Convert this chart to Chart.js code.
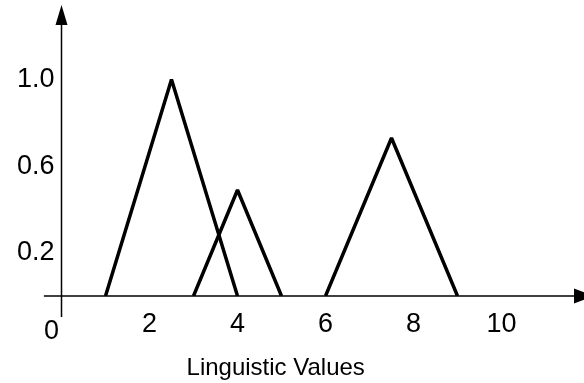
<!DOCTYPE html>
<html>
<head>
<meta charset="utf-8">
<script src="https://cdn.jsdelivr.net/npm/chart.js@4.4.0/dist/chart.umd.min.js"></script>
<style>
  html, body { margin: 0; padding: 0; background: #fff; }
  #wrap { width: 584px; height: 383px; }
</style>
</head>
<body>
<div id="wrap"><canvas id="fuzzyChart" width="584" height="383"></canvas></div>
<script>
// membership functions (x = linguistic value, y = degree)
const lowX = [1, 2.5, 4];
const lowY = [0, 1.0, 0];
const midX = [3, 4, 5];
const midY = [0, 0.49, 0];
const highX = [6, 7.5, 9];
const highY = [0, 0.73, 0];

const xTicks = [0, 2, 4, 6, 8, 10];
const yTicks = [0.2, 0.6, 1.0];
const xTitle = 'Linguistic Values';
const originLabel = '0';

const FONT = '"Liberation Sans", Arial, sans-serif';

function toPoints(xs, ys) {
    return xs.map((x, i) => ({ x: x, y: ys[i] }));
}

function triangle(xs, ys) {
    return {
        data: toPoints(xs, ys),
        showLine: true,
        borderColor: '#000',
        borderWidth: 3.5,
        borderJoinStyle: 'bevel',
        borderCapStyle: 'butt',
        pointRadius: 0,
        tension: 0
    };
}

// axes with arrows, origin label and axis title
const axesPlugin = {
    id: 'axesPlugin',
    afterDraw(chart) {
        const ctx = chart.ctx;
        const xs = chart.scales.x;
        const ys = chart.scales.y;
        const x0 = xs.getPixelForValue(0);
        const y0 = ys.getPixelForValue(0);

        ctx.save();
        ctx.strokeStyle = '#000';
        ctx.fillStyle = '#000';
        ctx.lineWidth = 1.5;

        // horizontal axis
        ctx.beginPath();
        ctx.moveTo(xs.getPixelForValue(-0.4), y0);
        ctx.lineTo(xs.right - 10, y0);
        ctx.stroke();
        ctx.beginPath();
        ctx.moveTo(xs.right - 10, y0 - 7.5);
        ctx.lineTo(xs.right + 10, y0);
        ctx.lineTo(xs.right - 10, y0 + 7.5);
        ctx.closePath();
        ctx.fill();

        // vertical axis
        ctx.beginPath();
        ctx.moveTo(x0, ys.getPixelForValue(-0.097));
        ctx.lineTo(x0, ys.top + 19);
        ctx.stroke();
        ctx.beginPath();
        ctx.moveTo(x0 - 6, ys.top + 19);
        ctx.lineTo(x0, ys.top - 1);
        ctx.lineTo(x0 + 6, ys.top + 19);
        ctx.closePath();
        ctx.fill();

        // origin label sits left of the vertical axis
        ctx.font = '27px ' + FONT;
        ctx.textAlign = 'center';
        ctx.textBaseline = 'alphabetic';
        ctx.fillText(originLabel, x0 - 10, y0 + 42.5);

        ctx.font = '24px ' + FONT;
        ctx.fillText(xTitle, 275.7, 375);
        ctx.restore();
    }
};

const ctx = document.getElementById('fuzzyChart').getContext('2d');
new Chart(ctx, {
    type: 'scatter',
    data: {
        datasets: [
            triangle(lowX, lowY),
            triangle(midX, midY),
            triangle(highX, highY)
        ]
    },
    options: {
        responsive: false,
        animation: false,
        devicePixelRatio: 1,
        layout: { padding: { top: 6, right: 0, bottom: 0, left: 0 } },
        plugins: {
            legend: { display: false },
            tooltip: { enabled: false }
        },
        scales: {
            x: {
                type: 'linear',
                min: 0,
                max: 11.875,
                afterBuildTicks: axis => { axis.ticks = xTicks.map(v => ({ value: v })); },
                afterFit: axis => {
                    axis.height = 87;
                    axis.paddingLeft = 0;
                    axis.paddingRight = 0;
                },
                grid: { display: false, drawTicks: false },
                border: { display: false },
                ticks: {
                    autoSkip: false,
                    maxRotation: 0,
                    padding: 12,
                    color: '#000',
                    font: { family: FONT, size: 27 },
                    callback: v => (v === 0 ? '' : String(v))
                }
            },
            y: {
                type: 'linear',
                min: 0,
                max: 1.34,
                afterBuildTicks: axis => { axis.ticks = yTicks.map(v => ({ value: v })); },
                afterFit: axis => {
                    axis.width = 61.5;
                    axis.paddingTop = 0;
                    axis.paddingBottom = 0;
                },
                grid: { display: false, drawTicks: false },
                border: { display: false },
                ticks: {
                    padding: 7,
                    color: '#000',
                    font: { family: FONT, size: 27 },
                    callback: v => v.toFixed(1)
                }
            }
        }
    },
    plugins: [axesPlugin]
});
</script>
</body>
</html>
